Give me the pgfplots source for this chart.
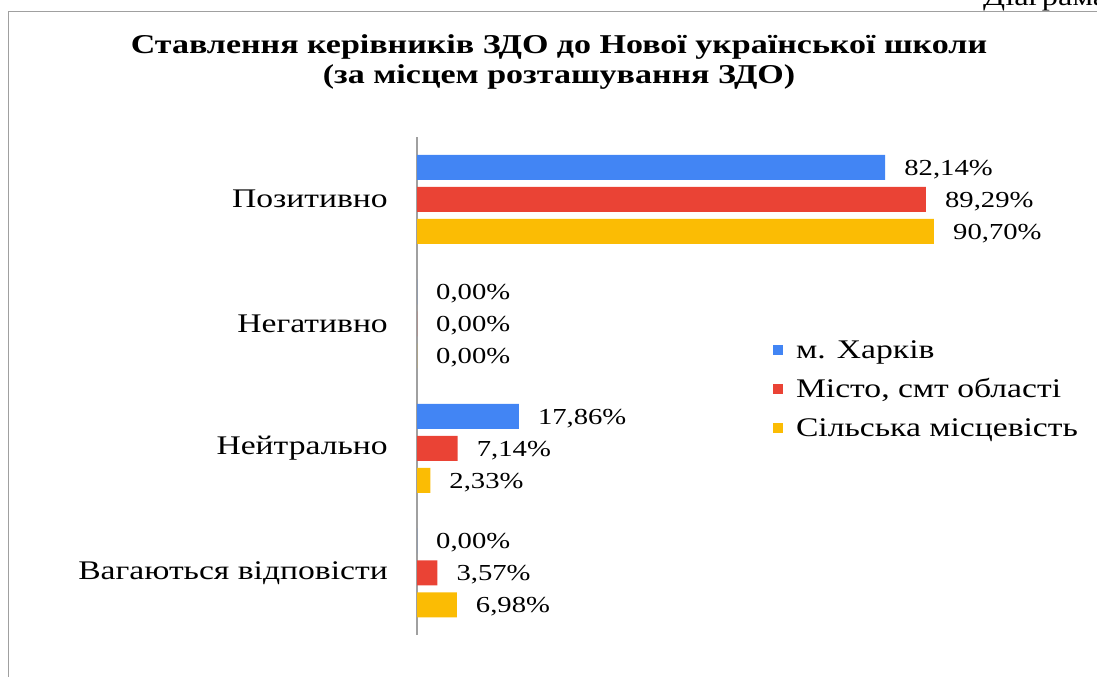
\documentclass[border=0pt]{standalone}
\usepackage{fontspec}
\setmainfont{Liberation Serif}[FakeStretch=1.25]
\usepackage{pgfplots}
\pgfplotsset{compat=1.18}
\definecolor{cblue}{HTML}{4285F4}
\definecolor{cred}{HTML}{EA4335}
\definecolor{cyel}{HTML}{FBBC04}
\definecolor{frame}{HTML}{A0A0A0}
\begin{document}
\begin{tikzpicture}
\useasboundingbox (0,0) rectangle (1097bp,-677bp);
\draw[frame, line width=1bp] (8bp,-700bp) -- (8bp,-11.5bp) -- (1120bp,-11.5bp);
\node[anchor=base west, inner sep=0pt, font=\fontsize{26}{30}\selectfont] at (983bp,-5bp) {Діаграма};
\node[align=center, inner sep=0pt, font=\fontsize{27.3}{30}\selectfont\bfseries] at (559bp,-62bp) {Ставлення керівників ЗДО до Нової української школи\\(за місцем розташування ЗДО)};
\begin{axis}[
  at={(417bp,-635bp)}, anchor=south west,
  scale only axis, width=570bp, height=498bp,
  xbar, bar width=25bp,
  xmin=0, xmax=100, ymin=-0.5, ymax=3.5,
  axis x line=none, axis y line=left,
  y axis line style={frame, line width=1.5bp, -},
  ytick={0,1,2,3},
  yticklabels={Вагаються відповісти, Нейтрально, Негативно, Позитивно},
  major tick length=0pt,
  yticklabel style={font=\fontsize{27}{30}\selectfont, inner sep=0pt, xshift=-29bp},
  nodes near coords, point meta=explicit symbolic,
  nodes near coords style={font=\fontsize{23}{26}\selectfont, anchor=west, inner sep=0pt, xshift=19bp, yshift=-2bp, text=black},
  legend image code/.code={\fill[#1] (0bp,-5bp) rectangle (10bp,5bp);},
  legend style={at={(0.619,0.600)}, anchor=north west, draw=none, fill=none,
    font=\fontsize{27}{30}\selectfont, row sep=15bp, legend cell align=left,
    /tikz/every odd column/.append style={column sep=11bp}},
  clip=false,
]
\addplot[fill=cblue, draw=none, bar shift=32bp] coordinates {(82.14,3)[82,14\%] (0,2)[0,00\%] (17.86,1)[17,86\%] (0,0)[0,00\%]};
\addplot[fill=cred, draw=none, bar shift=0bp] coordinates {(89.29,3)[89,29\%] (0,2)[0,00\%] (7.14,1)[7,14\%] (3.57,0)[3,57\%]};
\addplot[fill=cyel, draw=none, bar shift=-32bp] coordinates {(90.70,3)[90,70\%] (0,2)[0,00\%] (2.33,1)[2,33\%] (6.98,0)[6,98\%]};
\legend{м. Харків, {Місто, смт області}, Сільська місцевість}
\end{axis}
\end{tikzpicture}
\end{document}
